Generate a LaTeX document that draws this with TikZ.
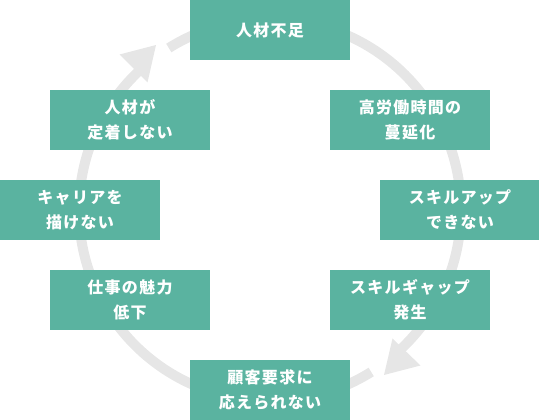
\documentclass[tikz,border=0pt]{standalone}
\usepackage{fontspec}
\newfontfamily\jpfont[LetterSpace=8]{Noto Sans CJK JP}
\usetikzlibrary{arrows.meta,calc}
\definecolor{teal1}{HTML}{5AB3A0}
\definecolor{ring}{HTML}{E6E6E6}
\begin{document}
\begin{tikzpicture}[x=1pt,y=1pt,
  box/.style={fill=teal1,text=white,minimum width=160pt,minimum height=60pt,
    inner sep=0pt,align=center,font=\jpfont\bfseries\fontsize{16}{25}\selectfont},
  ring/.style={draw=ring,line width=10pt},
  head/.style={fill=ring}]
\useasboundingbox (0,0) rectangle (539,420);
\coordinate (c) at (270,210);
\def\R{191}
% ring
\draw[ring] ($(c)+(122:\R)$) arc[start angle=122,end angle=-50,radius=\R];
\draw[ring] ($(c)+(-58:\R)$) arc[start angle=-58,end angle=-230,radius=\R];
% arrow heads
\coordinate (t1) at (156,375);
\coordinate (t1a) at (119.5,365.5);
\coordinate (t1b) at (147.5,337.5);
\fill[head] (t1) -- (t1a) -- (t1b) -- cycle;
\coordinate (t2) at (384,45);
\coordinate (t2a) at (392.5,81.5);
\coordinate (t2b) at (420.5,54.5);
\fill[head] (t2) -- (t2a) -- (t2b) -- cycle;
% boxes
\node[box] (n1) at (270,390) {人材不足};
\node[box] (n2) at (410,300) {高労働時間の\\蔓延化};
\node[box] (n3) at (460,210) {スキルアップ\\できない};
\node[box] (n4) at (410,120) {スキルギャップ\\発生};
\node[box] (n5) at (270,30) {顧客要求に\\応えられない};
\node[box] (n6) at (130,120) {仕事の魅力\\低下};
\node[box] (n7) at (80,210) {キャリアを\\描けない};
\node[box] (n8) at (130,300) {人材が\\定着しない};
\end{tikzpicture}
\end{document}
